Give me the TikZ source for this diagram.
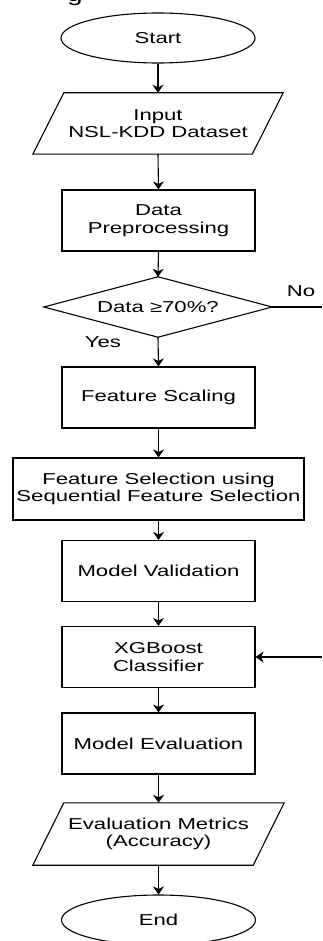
\documentclass[tikz,border=0pt]{standalone}
\usepackage{fontspec}
\setmainfont{Liberation Sans}[FakeStretch=1.4]
\usetikzlibrary{shapes.geometric,arrows.meta}
\begin{document}
\begin{tikzpicture}[x=1pt,y=-1pt,
 every node/.style={font=\fontsize{15.8}{17.5}\selectfont, align=center, inner sep=0pt, text=black},
 term/.style={ellipse,draw,line width=1.1pt,minimum width=194pt,minimum height=50pt},
 procbox/.style={rectangle,draw,line width=1.1pt,minimum width=193pt,minimum height=61pt},
 widebox/.style={procbox,minimum width=291pt,minimum height=62pt},
 iobox/.style={rectangle,minimum width=219pt,minimum height=61pt},
 decbox/.style={rectangle,minimum width=228pt,minimum height=60pt},
 shapeline/.style={line width=1.1pt,line join=miter},
 flow/.style={-{Stealth[length=8pt,width=11pt,inset=2.5pt]},line width=1.1pt},
 plainline/.style={line width=1.1pt}]
\useasboundingbox (0,0) rectangle (322,941);
% cut-off caption letter at the top
\node[anchor=south,font=\fontsize{20}{22}\selectfont] (cap) at (75,5.5) {g};
% nodes
\node[term] (start) at (158,38) {Start};
\node[iobox] (input) at (158,123.5) {Input\\NSL-KDD Dataset};
\draw[shapeline] ([xshift=15.5pt]input.north west) -- ([xshift=15.5pt]input.north east)
  -- ([xshift=-15.5pt]input.south east) -- ([xshift=-15.5pt]input.south west) -- cycle;
\node[procbox] (pre) at (158.5,220.5) {Data\\Preprocessing};
\node[decbox] (dec) at (158,307) {Data ≥70\%?};
\draw[shapeline] (dec.north) -- (dec.east) -- (dec.south) -- (dec.west) -- cycle;
\coordinate (noend) at (322,307);
\node (no) at (301,291) {No};
\node (yes) at (103,342) {Yes};
\node[procbox] (scale) at (158.5,397.5) {Feature Scaling};
\node[widebox] (sel) at (158.5,489) {Feature Selection using\\Sequential Feature Selection};
\node[procbox] (val) at (158.5,571) {Model Validation};
\node[procbox] (xgb) at (158.5,657) {XGBoost\\Classifier};
\coordinate (xgbin) at (322,657);
\node[procbox] (eval) at (158.5,743.5) {Model Evaluation};
\node[iobox,minimum width=220pt,minimum height=62pt] (met) at (158.5,834) {Evaluation Metrics\\(Accuracy)};
\draw[shapeline] ([xshift=15.5pt]met.north west) -- ([xshift=15.5pt]met.north east)
  -- ([xshift=-15.5pt]met.south east) -- ([xshift=-15.5pt]met.south west) -- cycle;
\node[term] (end) at (158.5,920) {End};
% connectors
\draw[flow] (start.south) -- (input.north);
\draw[flow] (input.south) -- (pre.north);
\draw[flow] (pre.south) -- (dec.north);
\draw[plainline] (dec.east) -- (noend);
\draw[flow] (dec.south) -- (scale.north);
\draw[flow] (scale.south) -- (sel.north);
\draw[flow] (sel.south) -- (val.north);
\draw[flow] (val.south) -- (xgb.north);
\draw[flow] (xgbin) -- (xgb.east);
\draw[flow] (xgb.south) -- (eval.north);
\draw[flow] (eval.south) -- (met.north);
\draw[flow] (met.south) -- (end.north);
\end{tikzpicture}
\end{document}
